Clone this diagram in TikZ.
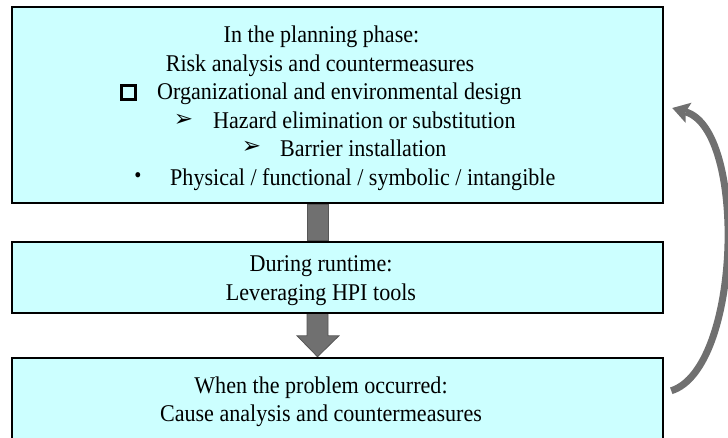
\documentclass[tikz,border=0pt]{standalone}
\usepackage{fontspec}
\setmainfont{Liberation Serif}[FakeStretch=0.92]
\newfontfamily\dingfont{DejaVu Sans}
\usetikzlibrary{arrows.meta}
\usetikzlibrary{calc}
\usetikzlibrary{backgrounds}
\definecolor{boxcyan}{RGB}{204,255,255}
\definecolor{arrowgray}{RGB}{112,112,112}
\definecolor{arrowedge}{RGB}{86,86,86}
\tikzset{
  phase/.style={draw=black, line width=2.5pt, fill=boxcyan, minimum width=651pt, inner sep=0pt},
  txt/.style={inner sep=0pt, font=\fontsize{24}{28}\selectfont},
  ding/.style={inner sep=0pt, font=\dingfont\fontsize{23}{23}\selectfont},
  blockarrow/.style={fill=arrowgray, draw=arrowedge, line width=0.8pt},
  looparrow/.style={draw=arrowgray, line width=7pt, -{Stealth[length=17pt, width=21pt, inset=3pt, line width=0pt]}}
}

\begin{document}
\begin{tikzpicture}[x=1pt,y=1pt]
  \clip (0,0) rectangle (728,437);

  \node[phase, minimum height=196pt] (plan) at (337.5,332) {};
  \node[phase, minimum height=71pt] (run) at (337.5,159.5) {};
  \node[phase, minimum height=110pt] (occur) at (337.5,24) {};

  % block arrows go under the box borders
  \begin{scope}[on background layer]
    \filldraw[blockarrow] ($(plan.south)+(-30.5,0)$) rectangle ($(run.north)+(-9.5,0)$);
    \filldraw[blockarrow] ($(run.south)+(-30.5,0)$) -- ($(occur.north)+(-30.5,21)$) -- ($(occur.north)+(-40.5,21)$)
      -- ($(occur.north)+(-20,0)$) -- ($(occur.north)+(1.5,21)$) -- ($(occur.north)+(-9.5,21)$) -- ($(run.south)+(-9.5,0)$) -- cycle;
  \end{scope}

  \coordinate (loopfrom) at ($(occur.north east)+(7,-34)$);
  \coordinate (loopto) at ($(plan.east)+(8,-3)$);
  \draw[looparrow] (loopfrom) .. controls +(70,22) and +(75,-22) .. (loopto);

  \node[txt, anchor=base] (plantitle) at (321.5,394) {In the planning phase:};
  \node[txt, anchor=base] (risk) at (320,365) {Risk analysis and countermeasures};
  \node[draw, line width=3.2pt, minimum size=14pt, inner sep=0pt] (sqmark) at (128.5,344.5) {};
  \node[txt, anchor=base west] (design) at (157,337) {Organizational and environmental design};
  \node[ding] (hazmark) at (183.5,317) {➢};
  \node[txt, anchor=base west] (hazard) at (213,308.5) {Hazard elimination or substitution};
  \node[ding] (barmark) at (251.5,289.5) {➢};
  \node[txt, anchor=base west] (barrier) at (280,280) {Barrier installation};
  \node[inner sep=0pt, font=\fontsize{22}{22}\selectfont] (dotmark) at (138,259) {•};
  \node[txt, anchor=base west] (physical) at (170,251.5) {Physical / functional / symbolic / intangible};

  \node[txt, anchor=base] (during) at (321,165.3) {During runtime:};
  \node[txt, anchor=base] (hpi) at (321,137) {Leveraging HPI tools};

  \node[txt, anchor=base] (when) at (321,44) {When the problem occurred:};
  \node[txt, anchor=base] (cause) at (321,15.3) {Cause analysis and countermeasures};
\end{tikzpicture}
\end{document}
